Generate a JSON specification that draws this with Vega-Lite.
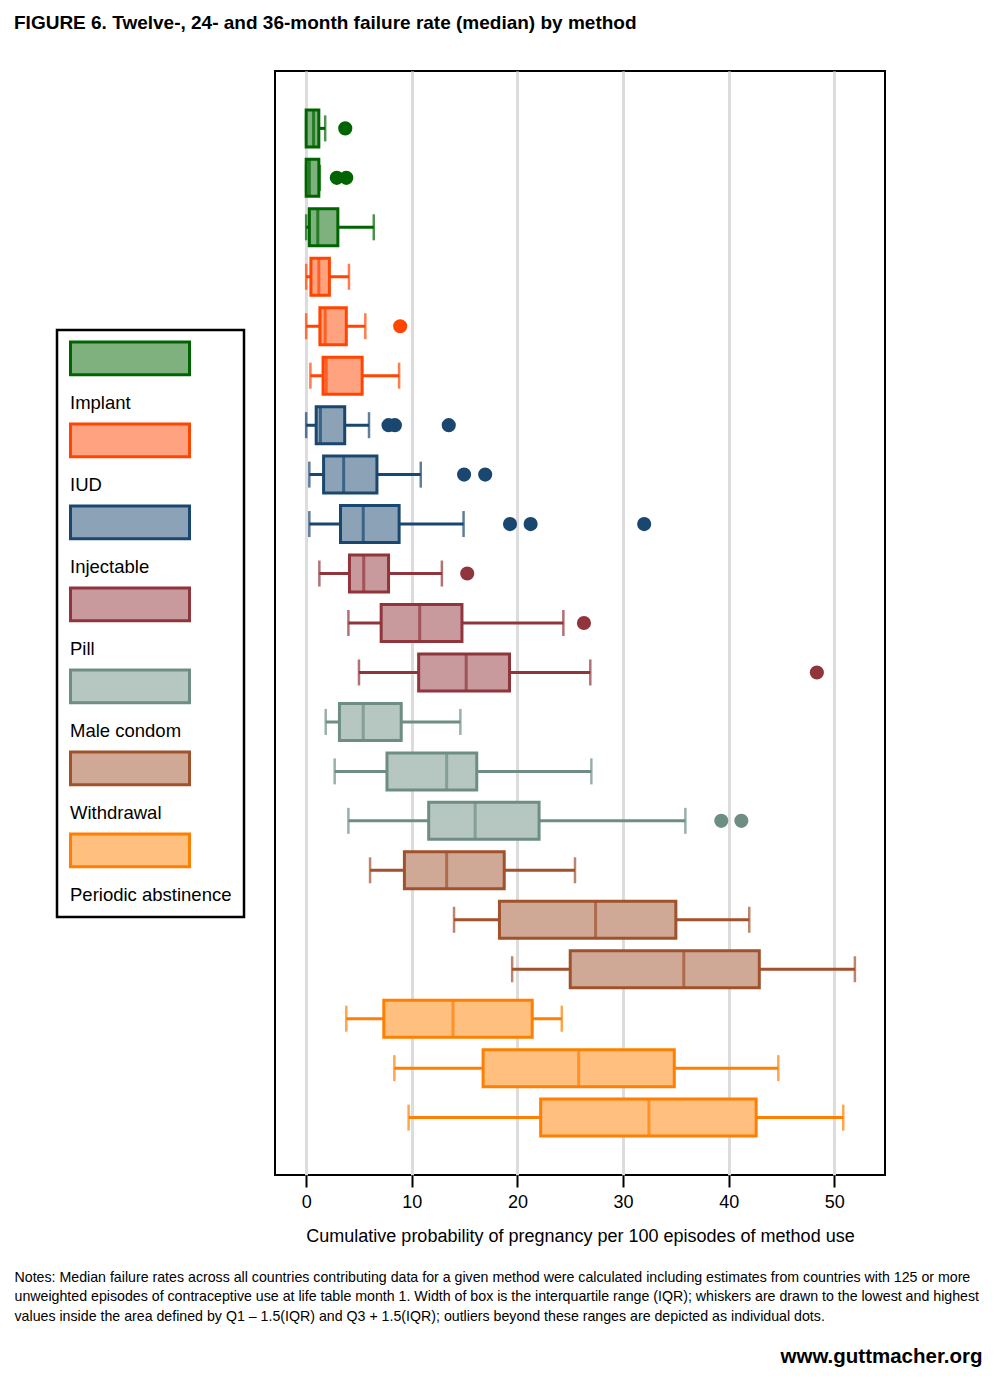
{
  "$schema": "https://vega.github.io/schema/vega-lite/v6.json",
  "width": 610,
  "height": 1104,
  "autosize": {"type": "none"},
  "padding": {"left": 275, "top": 71, "right": 115, "bottom": 209},
  "background": "white",
  "config": {
    "font": "Liberation Sans",
    "view": {"stroke": "black", "strokeWidth": 2},
    "legend": {
      "strokeWidth": 2.5,
      "layout": {"left": {"anchor": "middle"}}
    }
  },
  "title": {
    "text": "FIGURE 6. Twelve-, 24- and 36-month failure rate (median) by method",
    "anchor": "start",
    "frame": "group",
    "dx": -261,
    "offset": 38,
    "font": "Liberation Sans",
    "fontSize": 19,
    "fontWeight": "bold",
    "color": "black"
  },
  "datasets": {
    "boxes": [
      {"method": "Implant", "months": 12, "cat": "Implant 12", "lo": 0, "q1": 0, "med": 0.7, "q3": 1.2, "hi": 1.8},
      {"method": "Implant", "months": 24, "cat": "Implant 24", "lo": 0, "q1": 0, "med": 0.3, "q3": 1.2, "hi": 1.3},
      {"method": "Implant", "months": 36, "cat": "Implant 36", "lo": 0, "q1": 0.3, "med": 1.1, "q3": 3.0, "hi": 6.4},
      {"method": "IUD", "months": 12, "cat": "IUD 12", "lo": 0, "q1": 0.45, "med": 1.2, "q3": 2.2, "hi": 4.05},
      {"method": "IUD", "months": 24, "cat": "IUD 24", "lo": 0, "q1": 1.3, "med": 1.8, "q3": 3.8, "hi": 5.6},
      {"method": "IUD", "months": 36, "cat": "IUD 36", "lo": 0.4, "q1": 1.6, "med": 1.9, "q3": 5.3, "hi": 8.8},
      {"method": "Injectable", "months": 12, "cat": "Injectable 12", "lo": 0, "q1": 0.95, "med": 1.35, "q3": 3.65, "hi": 5.95},
      {"method": "Injectable", "months": 24, "cat": "Injectable 24", "lo": 0.3, "q1": 1.65, "med": 3.55, "q3": 6.7, "hi": 10.85},
      {"method": "Injectable", "months": 36, "cat": "Injectable 36", "lo": 0.3, "q1": 3.25, "med": 5.4, "q3": 8.8, "hi": 14.9},
      {"method": "Pill", "months": 12, "cat": "Pill 12", "lo": 1.25, "q1": 4.1, "med": 5.45, "q3": 7.8, "hi": 12.85},
      {"method": "Pill", "months": 24, "cat": "Pill 24", "lo": 4.0, "q1": 7.1, "med": 10.75, "q3": 14.75, "hi": 24.35},
      {"method": "Pill", "months": 36, "cat": "Pill 36", "lo": 5.0, "q1": 10.65, "med": 15.15, "q3": 19.25, "hi": 26.9},
      {"method": "Male condom", "months": 12, "cat": "Male condom 12", "lo": 1.85, "q1": 3.15, "med": 5.4, "q3": 9.0, "hi": 14.6},
      {"method": "Male condom", "months": 24, "cat": "Male condom 24", "lo": 2.7, "q1": 7.65, "med": 13.3, "q3": 16.15, "hi": 27.0},
      {"method": "Male condom", "months": 36, "cat": "Male condom 36", "lo": 4.0, "q1": 11.6, "med": 16.0, "q3": 22.05, "hi": 35.9},
      {"method": "Withdrawal", "months": 12, "cat": "Withdrawal 12", "lo": 6.05, "q1": 9.3, "med": 13.3, "q3": 18.75, "hi": 25.45},
      {"method": "Withdrawal", "months": 24, "cat": "Withdrawal 24", "lo": 14.0, "q1": 18.3, "med": 27.4, "q3": 35.0, "hi": 41.95},
      {"method": "Withdrawal", "months": 36, "cat": "Withdrawal 36", "lo": 19.5, "q1": 25.0, "med": 35.75, "q3": 42.9, "hi": 51.95},
      {"method": "Periodic abstinence", "months": 12, "cat": "Periodic abstinence 12", "lo": 3.8, "q1": 7.35, "med": 13.9, "q3": 21.4, "hi": 24.2},
      {"method": "Periodic abstinence", "months": 24, "cat": "Periodic abstinence 24", "lo": 8.35, "q1": 16.75, "med": 25.8, "q3": 34.85, "hi": 44.7},
      {"method": "Periodic abstinence", "months": 36, "cat": "Periodic abstinence 36", "lo": 9.7, "q1": 22.2, "med": 32.45, "q3": 42.6, "hi": 50.85}
    ],
    "outliers": [
      {"method": "Implant", "cat": "Implant 12", "value": 3.7},
      {"method": "Implant", "cat": "Implant 24", "value": 2.9},
      {"method": "Implant", "cat": "Implant 24", "value": 3.8},
      {"method": "IUD", "cat": "IUD 24", "value": 8.9},
      {"method": "Injectable", "cat": "Injectable 12", "value": 7.8},
      {"method": "Injectable", "cat": "Injectable 12", "value": 8.4},
      {"method": "Injectable", "cat": "Injectable 12", "value": 13.5},
      {"method": "Injectable", "cat": "Injectable 24", "value": 14.95},
      {"method": "Injectable", "cat": "Injectable 24", "value": 16.95},
      {"method": "Injectable", "cat": "Injectable 36", "value": 19.3},
      {"method": "Injectable", "cat": "Injectable 36", "value": 21.25},
      {"method": "Injectable", "cat": "Injectable 36", "value": 32.0},
      {"method": "Pill", "cat": "Pill 12", "value": 15.25},
      {"method": "Pill", "cat": "Pill 24", "value": 26.3},
      {"method": "Pill", "cat": "Pill 36", "value": 48.35},
      {"method": "Male condom", "cat": "Male condom 36", "value": 39.3},
      {"method": "Male condom", "cat": "Male condom 36", "value": 41.2}
    ]
  },
  "encoding": {
    "y": {
      "field": "cat",
      "type": "nominal",
      "scale": {
        "domain": ["Implant 12", "Implant 24", "Implant 36", "IUD 12", "IUD 24", "IUD 36", "Injectable 12", "Injectable 24", "Injectable 36", "Pill 12", "Pill 24", "Pill 36", "Male condom 12", "Male condom 24", "Male condom 36", "Withdrawal 12", "Withdrawal 24", "Withdrawal 36", "Periodic abstinence 12", "Periodic abstinence 24", "Periodic abstinence 36"],
        "paddingInner": 0,
        "paddingOuter": 0.66
      },
      "axis": null
    }
  },
  "resolve": {"axis": {"x": "independent"}},
  "layer": [
    {
      "data": {"name": "boxes"},
      "mark": {"type": "rule", "strokeWidth": 3},
      "encoding": {
        "x": {
          "field": "lo",
          "type": "quantitative",
          "scale": {"domain": [-2.95, 54.8], "nice": false, "zero": false},
          "axis": {
            "orient": "bottom",
            "offset": 0,
            "values": [0, 10, 20, 30, 40, 50],
            "grid": true,
            "gridColor": "#dcdcdc",
            "gridWidth": 3,
            "domain": false,
            "ticks": true,
            "tickColor": "black",
            "tickWidth": 2,
            "tickSize": 12,
            "labelFont": "Liberation Sans",
            "labelFontSize": 18,
            "labelColor": "black",
            "labelPadding": 6,
            "title": "Cumulative probability of pregnancy per 100 episodes of method use",
            "titleFont": "Liberation Sans",
            "titleFontSize": 18,
            "titleFontWeight": "normal",
            "titleColor": "black",
            "titlePadding": 16
          }
        },
        "x2": {"field": "hi"},
        "color": {
          "field": "method",
          "type": "nominal",
          "scale": {
            "domain": ["Periodic abstinence", "Withdrawal", "Male condom", "Pill", "Injectable", "IUD", "Implant"],
            "range": ["#ff7f00", "#a0522d", "#6e8e84", "#90353b", "#1a476f", "#ff4500", "#006400"]
          },
          "legend": null
        }
      }
    },
    {
      "data": {"name": "boxes"},
      "mark": {"type": "tick", "thickness": 2.5, "size": 26},
      "encoding": {
        "x": {"field": "lo", "type": "quantitative", "axis": null},
        "color": {"field": "method", "type": "nominal", "legend": null}
      }
    },
    {
      "data": {"name": "boxes"},
      "mark": {"type": "tick", "thickness": 2.5, "size": 26},
      "encoding": {
        "x": {"field": "hi", "type": "quantitative", "axis": null},
        "color": {"field": "method", "type": "nominal", "legend": null}
      }
    },
    {
      "data": {"name": "boxes"},
      "mark": {"type": "bar", "height": 37, "strokeWidth": 3, "opacity": 1},
      "encoding": {
        "x": {
          "field": "q1",
          "type": "quantitative",
          "axis": {
            "orient": "bottom",
            "offset": 0,
            "labels": false,
            "ticks": false,
            "domain": false,
            "grid": false,
            "title": [
              "Notes: Median failure rates across all countries contributing data for a given method were calculated including estimates from countries with 125 or more",
              "unweighted episodes of contraceptive use at life table month 1. Width of box is the interquartile range (IQR); whiskers are drawn to the lowest and highest",
              "values inside the area defined by Q1 – 1.5(IQR) and Q3 + 1.5(IQR); outliers beyond these ranges are depicted as individual dots."
            ],
            "titleX": -261,
            "titleY": 106,
            "titleAlign": "left",
            "titleBaseline": "alphabetic",
            "titleAngle": 0,
            "titleFont": "Liberation Sans",
            "titleFontSize": 14.2,
            "titleFontWeight": "normal",
            "titleLineHeight": 19.5,
            "titleColor": "black"
          }
        },
        "x2": {"field": "q3"},
        "fill": {
          "field": "method",
          "type": "nominal",
          "title": null,
          "scale": {
            "domain": ["Implant", "IUD", "Injectable", "Pill", "Male condom", "Withdrawal", "Periodic abstinence"],
            "range": ["#7fb17f", "#ffa27f", "#8ca3b7", "#c89a9d", "#b6c6c1", "#cfa896", "#ffbf7f"]
          },
          "legend": {
            "orient": "left",
            "offset": 31,
            "title": null,
            "symbolType": "M-1,-1.025H1V-0.475H-1Z",
            "symbolSize": 14161,
            "symbolStrokeWidth": 3,
            "labelFont": "Liberation Sans",
            "labelFontSize": 18.5,
            "labelColor": "black",
            "labelLimit": 300,
            "labelOffset": -121,
            "labelBaseline": "middle",
            "padding": 12,
            "rowPadding": 5,
            "strokeColor": "black",
            "fillColor": "white"
          }
        },
        "stroke": {
          "field": "method",
          "type": "nominal",
          "title": null,
          "scale": {
            "domain": ["Implant", "IUD", "Injectable", "Pill", "Male condom", "Withdrawal", "Periodic abstinence"],
            "range": ["#006400", "#ff4500", "#1a476f", "#90353b", "#6e8e84", "#a0522d", "#ff7f00"]
          },
          "legend": {
            "orient": "left",
            "offset": 31,
            "title": null,
            "symbolType": "M-1,-1.025H1V-0.475H-1Z",
            "symbolSize": 14161,
            "symbolStrokeWidth": 3,
            "labelFont": "Liberation Sans",
            "labelFontSize": 18.5,
            "labelColor": "black",
            "labelLimit": 300,
            "labelOffset": -121,
            "labelBaseline": "middle",
            "padding": 12,
            "rowPadding": 5,
            "strokeColor": "black",
            "fillColor": "white"
          }
        }
      }
    },
    {
      "data": {"name": "boxes"},
      "mark": {"type": "tick", "thickness": 3, "size": 37},
      "encoding": {
        "x": {
          "field": "med",
          "type": "quantitative",
          "axis": {
            "orient": "bottom",
            "offset": 0,
            "labels": false,
            "ticks": false,
            "domain": false,
            "grid": false,
            "title": "www.guttmacher.org",
            "titleX": 707,
            "titleY": 187,
            "titleAlign": "right",
            "titleBaseline": "alphabetic",
            "titleAngle": 0,
            "titleFont": "Liberation Sans",
            "titleFontSize": 20.5,
            "titleFontWeight": "bold",
            "titleColor": "black"
          }
        },
        "color": {"field": "method", "type": "nominal", "legend": null}
      }
    },
    {
      "data": {"name": "outliers"},
      "mark": {"type": "point", "shape": "circle", "filled": true, "size": 200, "opacity": 1},
      "encoding": {
        "x": {"field": "value", "type": "quantitative", "axis": null},
        "color": {"field": "method", "type": "nominal", "legend": null}
      }
    }
  ]
}
